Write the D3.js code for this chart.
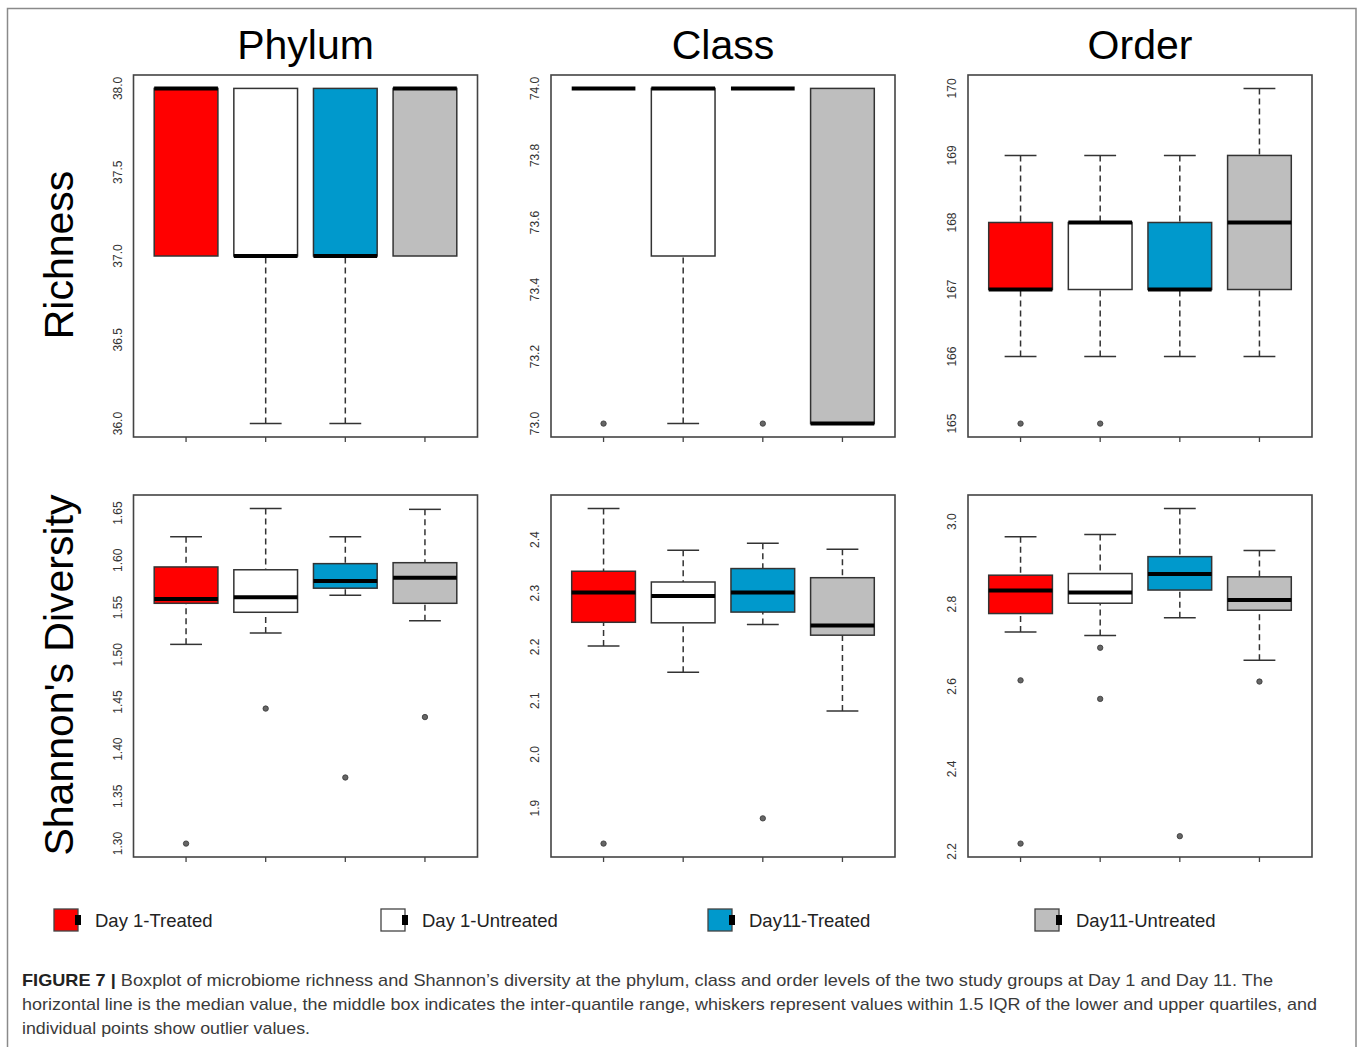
<!DOCTYPE html>
<html>
<head>
<meta charset="utf-8">
<script src="https://cdn.jsdelivr.net/npm/d3@7"></script>
<style>
  body { margin: 0; background: #fff; }
  svg { display: block; font-family: 'Liberation Sans', Arial, Helvetica, sans-serif; }
</style>
</head>
<body>
<svg id="chart" width="1358" height="1047"></svg>
<script>
const groups = ['Day 1-Treated', 'Day 1-Untreated', 'Day11-Treated', 'Day11-Untreated'];
const groupColors = ['#ff0000', '#ffffff', '#0099cc', '#bebebe'];
const levels = ['Phylum', 'Class', 'Order'];
const metrics = ['Richness', 'Shannon\'s Diversity'];

// one entry per group: [lower whisker, q1, median, q3, upper whisker]
const phylumRichness = [[37, 37, 38, 38, 38], [36, 37, 37, 38, 38], [36, 37, 37, 38, 38], [37, 37, 38, 38, 38]];
const phylumRichnessOut = [[], [], [], []];
const classRichness = [[74, 74, 74, 74, 74], [73, 73.5, 74, 74, 74], [74, 74, 74, 74, 74], [73, 73, 73, 74, 74]];
const classRichnessOut = [[73], [], [73], []];
const orderRichness = [[166, 167, 167, 168, 169], [166, 167, 168, 168, 169], [166, 167, 167, 168, 169], [166, 167, 168, 169, 170]];
const orderRichnessOut = [[165], [165], [], []];

const phylumShannon = [[1.511, 1.5545, 1.559, 1.593, 1.625], [1.523, 1.545, 1.561, 1.590, 1.655],
  [1.563, 1.5705, 1.578, 1.5965, 1.625], [1.536, 1.5545, 1.5815, 1.5975, 1.654]];
const phylumShannonOut = [[1.30], [1.443], [1.370], [1.434]];
const classShannon = [[2.202, 2.246, 2.3015, 2.341, 2.458], [2.153, 2.245, 2.295, 2.321, 2.380],
  [2.242, 2.265, 2.3015, 2.346, 2.393], [2.081, 2.222, 2.240, 2.329, 2.382]];
const classShannonOut = [[1.834], [], [1.881], []];
const orderShannon = [[2.732, 2.777, 2.833, 2.870, 2.963], [2.724, 2.802, 2.828, 2.874, 2.969],
  [2.767, 2.834, 2.873, 2.915, 3.032], [2.664, 2.785, 2.810, 2.866, 2.930]];
const orderShannonOut = [[2.615, 2.219], [2.694, 2.570], [2.237], [2.612]];

const phylumRichnessTicks = [36.0, 36.5, 37.0, 37.5, 38.0];
const classRichnessTicks = [73.0, 73.2, 73.4, 73.6, 73.8, 74.0];
const orderRichnessTicks = [165, 166, 167, 168, 169, 170];
const phylumShannonTicks = [1.30, 1.35, 1.40, 1.45, 1.50, 1.55, 1.60, 1.65];
const classShannonTicks = [1.9, 2.0, 2.1, 2.2, 2.3, 2.4];
const orderShannonTicks = [2.2, 2.4, 2.6, 2.8, 3.0];

const captionLines = [
  ['FIGURE 7 | ', 'Boxplot of microbiome richness and Shannon\u2019s diversity at the phylum, class and order levels of the two study groups at Day 1 and Day 11. The'],
  ['', 'horizontal line is the median value, the middle box indicates the inter-quantile range, whiskers represent values within 1.5 IQR of the lower and upper quartiles, and'],
  ['', 'individual points show outlier values.']
];

const panels = [
  {row: 0, col: 0, stats: phylumRichness, out: phylumRichnessOut, ticks: phylumRichnessTicks, fmt: '.1f'},
  {row: 0, col: 1, stats: classRichness, out: classRichnessOut, ticks: classRichnessTicks, fmt: '.1f'},
  {row: 0, col: 2, stats: orderRichness, out: orderRichnessOut, ticks: orderRichnessTicks, fmt: 'd'},
  {row: 1, col: 0, stats: phylumShannon, out: phylumShannonOut, ticks: phylumShannonTicks, fmt: '.2f'},
  {row: 1, col: 1, stats: classShannon, out: classShannonOut, ticks: classShannonTicks, fmt: '.1f'},
  {row: 1, col: 2, stats: orderShannon, out: orderShannonOut, ticks: orderShannonTicks, fmt: '.1f'},
];

const colLeft = [133.5, 551, 968];
const panelW = 344;
const rowTop = [75, 495];
const panelH = 362;

const svg = d3.select('#chart');

// outer figure frame
svg.append('rect')
  .attr('x', 7.5).attr('y', 8.5)
  .attr('width', 1348.5).attr('height', 1100)
  .attr('fill', 'none').attr('stroke', '#8a8a8a').attr('stroke-width', 1.5);

// column titles
svg.append('g')
  .selectAll('text')
  .data(levels)
  .join('text')
  .attr('x', (d, i) => colLeft[i] + panelW / 2)
  .attr('y', 59)
  .attr('text-anchor', 'middle')
  .attr('font-size', 41)
  .attr('fill', '#000')
  .text((d) => d);

// row titles
svg.append('g')
  .selectAll('text')
  .data(metrics)
  .join('text')
  .attr('transform', (d, i) => `translate(73,${rowTop[i] + panelH / 2 - 1}) rotate(-90)`)
  .attr('text-anchor', 'middle')
  .attr('font-size', 41)
  .attr('fill', '#000')
  .text((d) => d);

function drawPanel(p) {
  const left = colLeft[p.col];
  const top = rowTop[p.row];
  const g = svg.append('g');

  const x = d3.scaleBand()
    .domain(groups)
    .range([left, left + panelW])
    .paddingInner(0.2)
    .paddingOuter(0.26);

  // R style range: data extent padded by 4%
  const all = p.stats.flat().concat(p.out.flat());
  const [lo, hi] = d3.extent(all);
  const pad = (hi - lo) * 0.04;
  const y = d3.scaleLinear()
    .domain([lo - pad, hi + pad])
    .range([top + panelH, top]);

  const bw = x.bandwidth();
  const items = p.stats.map((s, i) => ({
    group: groups[i], color: groupColors[i], out: p.out[i],
    lw: s[0], q1: s[1], med: s[2], q3: s[3], uw: s[4],
  }));
  const cx = (d) => x(d.group) + bw / 2;

  const boxes = g.append('g')
    .selectAll('g')
    .data(items)
    .join('g');

  // whiskers
  boxes.filter((d) => d.lw < d.q1).append('line')
    .attr('x1', cx).attr('x2', cx)
    .attr('y1', (d) => y(d.lw)).attr('y2', (d) => y(d.q1))
    .attr('stroke', '#333').attr('stroke-width', 1.5).attr('stroke-dasharray', '6,4');
  boxes.filter((d) => d.uw > d.q3).append('line')
    .attr('x1', cx).attr('x2', cx)
    .attr('y1', (d) => y(d.uw)).attr('y2', (d) => y(d.q3))
    .attr('stroke', '#333').attr('stroke-width', 1.5).attr('stroke-dasharray', '6,4');

  // staples
  boxes.filter((d) => d.lw < d.q1).append('line')
    .attr('x1', (d) => cx(d) - bw / 4).attr('x2', (d) => cx(d) + bw / 4)
    .attr('y1', (d) => y(d.lw)).attr('y2', (d) => y(d.lw))
    .attr('stroke', '#333').attr('stroke-width', 1.5);
  boxes.filter((d) => d.uw > d.q3).append('line')
    .attr('x1', (d) => cx(d) - bw / 4).attr('x2', (d) => cx(d) + bw / 4)
    .attr('y1', (d) => y(d.uw)).attr('y2', (d) => y(d.uw))
    .attr('stroke', '#333').attr('stroke-width', 1.5);

  // boxes
  boxes.append('rect')
    .attr('x', (d) => x(d.group))
    .attr('width', bw)
    .attr('y', (d) => y(d.q3))
    .attr('height', (d) => y(d.q1) - y(d.q3))
    .attr('fill', (d) => d.color)
    .attr('stroke', '#333')
    .attr('stroke-width', 1.5);

  // medians
  boxes.append('line')
    .attr('x1', (d) => x(d.group)).attr('x2', (d) => x(d.group) + bw)
    .attr('y1', (d) => y(d.med)).attr('y2', (d) => y(d.med))
    .attr('stroke', '#000').attr('stroke-width', 4);

  // outliers
  boxes.selectAll('circle')
    .data((d) => d.out.map((v) => ({v, d})))
    .join('circle')
    .attr('cx', (o) => cx(o.d))
    .attr('cy', (o) => y(o.v))
    .attr('r', 2.7)
    .attr('fill', '#666')
    .attr('stroke', '#333')
    .attr('stroke-width', 0.8);

  // frame
  g.append('rect')
    .attr('x', left).attr('y', top)
    .attr('width', panelW).attr('height', panelH)
    .attr('fill', 'none').attr('stroke', '#444').attr('stroke-width', 1.6);

  // x ticks (no labels)
  g.append('g')
    .selectAll('line')
    .data(groups)
    .join('line')
    .attr('x1', (d) => x(d) + bw / 2).attr('x2', (d) => x(d) + bw / 2)
    .attr('y1', top + panelH).attr('y2', top + panelH + 5)
    .attr('stroke', '#444').attr('stroke-width', 1.3);

  // y tick labels, rotated like R's default
  const fmt = d3.format(p.fmt);
  g.append('g')
    .selectAll('text')
    .data(p.ticks)
    .join('text')
    .attr('transform', (d) => `translate(${left - 12},${y(d)}) rotate(-90)`)
    .attr('text-anchor', 'middle')
    .attr('font-size', 12)
    .attr('fill', '#333')
    .text((d) => fmt(d));
}

panels.forEach(drawPanel);

// legend
const legend = svg.append('g')
  .selectAll('g')
  .data(groups)
  .join('g')
  .attr('transform', (d, i) => `translate(${54 + i * 327},909)`);

legend.append('rect')
  .attr('width', 24).attr('height', 22)
  .attr('fill', (d, i) => groupColors[i])
  .attr('stroke', '#444').attr('stroke-width', 1.3);

legend.append('rect')
  .attr('x', 21).attr('y', 6)
  .attr('width', 6).attr('height', 10)
  .attr('fill', '#000');

legend.append('text')
  .attr('x', 41).attr('y', 18)
  .attr('font-size', 18.5)
  .attr('fill', '#222')
  .text((d) => d);

// caption
const captionWidths = [1251, 1295, 288];
const caption = svg.append('g')
  .selectAll('text')
  .data(captionLines)
  .join('text')
  .attr('x', 22)
  .attr('y', (d, i) => 986 + i * 24)
  .attr('font-size', 17)
  .attr('fill', '#3a3a3a')
  .attr('textLength', (d, i) => captionWidths[i])
  .attr('lengthAdjust', 'spacingAndGlyphs');

caption.append('tspan')
  .attr('font-weight', 'bold')
  .attr('fill', '#222')
  .text((d) => d[0]);
caption.append('tspan')
  .text((d) => d[1]);
</script>
</body>
</html>
